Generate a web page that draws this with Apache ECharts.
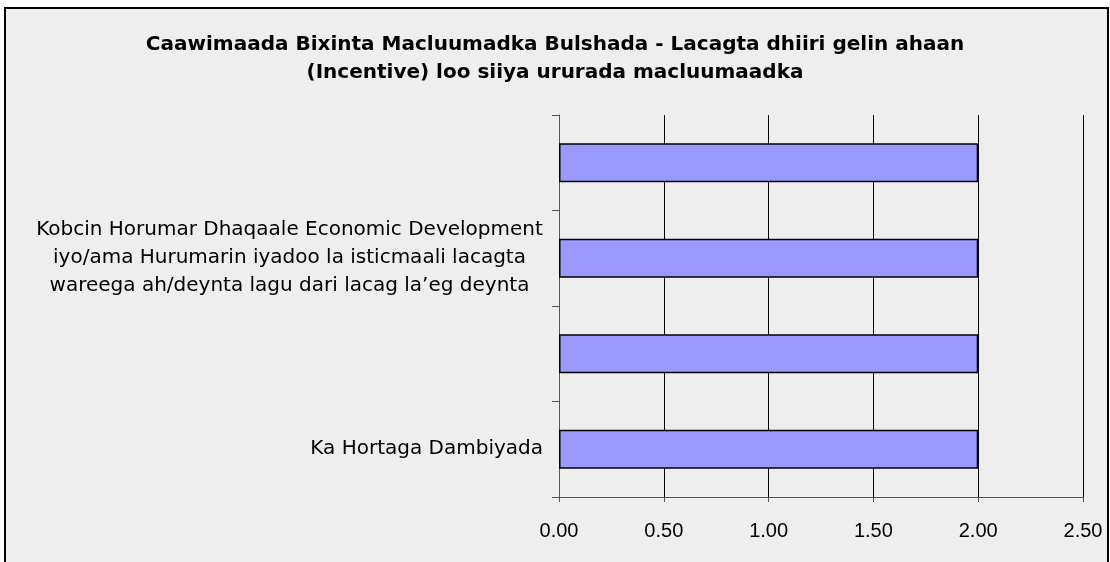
<!DOCTYPE html>
<html>
<head>
<meta charset="utf-8">
<script src="https://cdn.jsdelivr.net/npm/echarts@6/dist/echarts.min.js"></script>
<style>
  html, body { margin: 0; padding: 0; background: #fff; }
  #main { width: 1110px; height: 562px; }
</style>
</head>
<body>
<div id="main"></div>
<script>
// categories from bottom to top (only every other label is shown on the original)
const categories = [
  'Ka Hortaga Dambiyada',
  '',
  'Kobcin Horumar Dhaqaale Economic Development\niyo/ama Hurumarin iyadoo la isticmaali lacagta\nwareega ah/deynta lagu dari lacag la\u2019eg deynta',
  ''
]
const values = [2, 2, 2, 2]
const xTicks = { min: 0, max: 2.5, step: 0.5 }

const titleText = 'Caawimaada Bixinta Macluumadka Bulshada - Lacagta dhiiri gelin ahaan\n(Incentive) loo siiya ururada macluumaadka'

const catFamily = '"DejaVu Sans", sans-serif'
const numFamily = '"Liberation Sans", Arial, sans-serif'
const labelFont = '20px ' + catFamily

// widest line of a multi line label, so the lines can be centred inside it
function blockWidth(text) {
  const ctx = document.createElement('canvas').getContext('2d')
  ctx.font = labelFont
  return Math.max(...text.split('\n').map(l => ctx.measureText(l).width))
}
const wrapW = Math.ceil(Math.max(...categories.map(blockWidth)))

let myChart = echarts.init(document.getElementById('main'))
myChart.setOption({
  backgroundColor: '#ffffff',
  animation: false,
  graphic: [
    {
      type: 'rect',
      z: -10,
      shape: { x: 5, y: 8, width: 1103, height: 600 },
      style: { fill: '#eeeeee', stroke: '#000', lineWidth: 2 }
    }
  ],
  title: {
    text: titleText,
    left: 'center',
    top: 26,
    textStyle: {
      fontFamily: catFamily,
      fontSize: 20,
      fontWeight: 'bold',
      lineHeight: 28,
      color: '#000'
    }
  },
  grid: {
    left: 559,
    right: 27,
    top: 115,
    bottom: 65,
    containLabel: false
  },
  xAxis: {
    type: 'value',
    min: xTicks.min,
    max: xTicks.max,
    interval: xTicks.step,
    axisLine: { show: true, lineStyle: { color: '#555', width: 1 } },
    axisTick: { show: true, length: 5, lineStyle: { color: '#555' } },
    splitLine: { show: true, lineStyle: { color: '#000', width: 1 } },
    axisLabel: {
      margin: 24,
      fontSize: 20,
      fontFamily: numFamily,
      color: '#000',
      formatter: v => v.toFixed(2)
    }
  },
  yAxis: {
    type: 'category',
    data: categories,
    axisLine: { show: true, lineStyle: { color: '#555', width: 1 } },
    axisTick: { show: true, length: 7, lineStyle: { color: '#555' } },
    axisLabel: {
      interval: 0,
      margin: 16,
      fontSize: 20,
      fontFamily: catFamily,
      color: '#000',
      lineHeight: 28,
      formatter: v => v.indexOf('\n') < 0 ? v : v.split('\n').map(l => '{c|' + l + '}').join('\n'),
      rich: {
        c: {
          width: wrapW,
          align: 'center',
          fontSize: 20,
          lineHeight: 28,
          fontFamily: catFamily,
          color: '#000'
        }
      }
    }
  },
  series: [
    {
      type: 'bar',
      data: values,
      barWidth: 39,
      itemStyle: {
        color: '#9999ff',
        borderColor: '#000',
        borderWidth: 1.5
      }
    }
  ]
})
</script>
</body>
</html>
